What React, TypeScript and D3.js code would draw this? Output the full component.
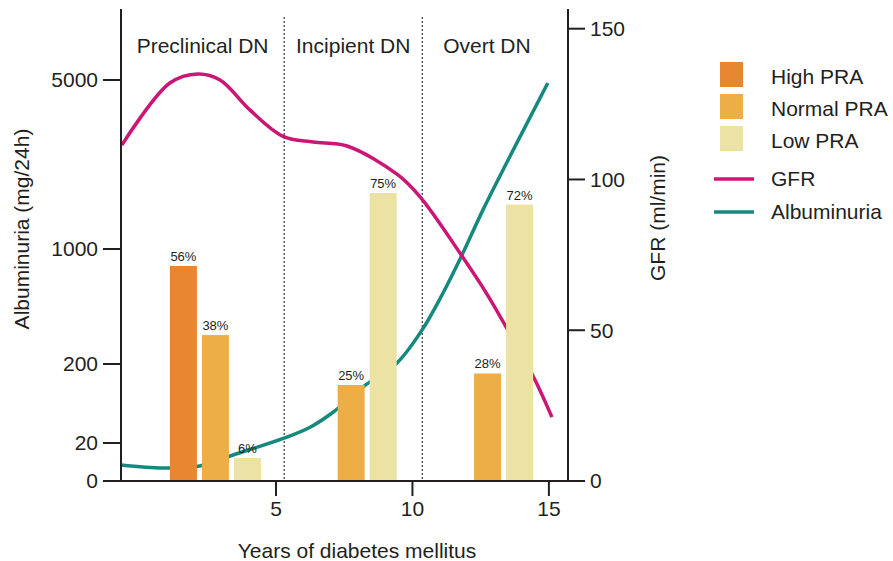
import React from "react";
import * as d3 from "d3";

// ---- data ----
const stageNames = ["Preclinical DN", "Incipient DN", "Overt DN"];
const stageBoundaries = [5.3, 10.36]; // years (dotted separators)
const stageEnd = 15.1;
const stageCenters = [2.78, 8.34, 13.34]; // years, centre of each bar group

const seriesNames = ["High PRA", "Normal PRA", "Low PRA"];
const highPRA: (number | null)[] = [56, null, null];
const normalPRA: (number | null)[] = [38, 25, 28];
const lowPRA: (number | null)[] = [6, 75, 72];

const gfrYears = [-0.65, 1.11, 2.14, 2.95, 4.05, 5.26, 6.36, 7.6, 9.47, 10.28, 11.74, 12.73, 13.43, 14.42, 15.11];
const gfrValues = [111.4, 132, 135, 133, 123, 114.3, 112.4, 111.1, 101.5, 94.2, 75.6, 62, 51.1, 34.8, 21.2];

const albYears = [-0.68, 0.86, 2.2, 3.43, 5.29, 6.25, 7.09, 8.19, 9.43, 10.35, 11.12, 11.78, 12.58, 13.5, 14.96];
const albValues = [8.4, 6.8, 7.9, 13.7, 31, 56, 90, 148, 207, 436, 694, 944, 1920, 3100, 4930];

const xTicks = [5, 10, 15];
const albTicks = [0, 20, 200, 1000, 5000];
const gfrTicks = [0, 50, 100, 150];

// ---- style ----
const W = 893;
const H = 561;
const FONT = "'Liberation Sans', Arial, Helvetica, sans-serif";
const TEXT = "#231f20";
const AXIS = "#231f20";
const barColors = ["#e88632", "#edae45", "#ece2a3"];
const GFR_COLOR = "#cc1676";
const ALB_COLOR = "#16897e";

const LEFT = 121;
const RIGHT = 568;
const BOTTOM = 481;
const TOP = 9;

export default function App() {
  const x = d3.scaleLinear().domain([-0.68, 15.7]).range([LEFT, RIGHT]);
  const yAlb = d3.scaleLinear().domain(albTicks).range([481, 443, 364, 249, 80]);
  const yGfr = d3.scaleLinear().domain([0, 150]).range([BOTTOM, 28.7]);
  const yPct = d3.scaleLinear().domain([0, 100]).range([BOTTOM, 97]);

  const gfrLine = d3
    .line<number>()
    .x((_, i) => x(gfrYears[i]))
    .y((d) => yGfr(d))
    .curve(d3.curveCatmullRom.alpha(0.5));
  const albLine = d3
    .line<number>()
    .x((_, i) => x(albYears[i]))
    .y((d) => yAlb(d))
    .curve(d3.curveCatmullRom.alpha(0.5));

  const series = [highPRA, normalPRA, lowPRA];
  const barW = 27;
  const bars: { x: number; y: number; v: number; color: string; key: string }[] = [];
  stageCenters.forEach((c, si) => {
    const present = seriesNames.filter((_, k) => series[k][si] != null);
    const n = present.length;
    const inner = d3
      .scalePoint<string>()
      .domain(present)
      .range([-(n - 1) * 16, (n - 1) * 16]);
    present.forEach((name) => {
      const k = seriesNames.indexOf(name);
      const v = series[k][si] as number;
      bars.push({
        x: x(c) + (inner(name) as number),
        y: yPct(v),
        v,
        color: barColors[k],
        key: `${si}-${k}`,
      });
    });
  });

  const bounds = [x.domain()[0], ...stageBoundaries, stageEnd];

  return (
    <svg
      width={W}
      height={H}
      style={{ position: "absolute", left: 0, top: 0, background: "#fff" }}
      fontFamily={FONT}
    >
      <rect width={W} height={H} fill="#fff" />
      {/* stage separators */}
      {stageBoundaries.map((b) => (
        <line
          key={b}
          x1={x(b)}
          x2={x(b)}
          y1={17}
          y2={BOTTOM}
          stroke="#333"
          strokeWidth={1.2}
          strokeDasharray="2,2"
        />
      ))}
      {/* stage labels */}
      {stageNames.map((s, i) => (
        <text
          key={s}
          x={(x(bounds[i]) + x(bounds[i + 1])) / 2}
          y={53}
          textAnchor="middle"
          fontSize={21}
          fill={TEXT}
        >
          {s}
        </text>
      ))}

      {/* curves */}
      <path d={albLine(albValues) || ""} fill="none" stroke={ALB_COLOR} strokeWidth={3.5} />
      <path d={gfrLine(gfrValues) || ""} fill="none" stroke={GFR_COLOR} strokeWidth={3.5} />

      {/* bars */}
      {bars.map((b) => (
        <g key={b.key}>
          <rect x={b.x - barW / 2} y={b.y} width={barW} height={BOTTOM - b.y} fill={b.color} />
          <text x={b.x} y={b.y - 5} textAnchor="middle" fontSize={13} fill={TEXT}>
            {b.v}%
          </text>
        </g>
      ))}

      {/* left axis */}
      <line x1={LEFT} x2={LEFT} y1={TOP} y2={BOTTOM} stroke={AXIS} strokeWidth={2} />
      {albTicks.map((t) => (
        <g key={`a${t}`}>
          <line x1={103} x2={LEFT} y1={yAlb(t)} y2={yAlb(t)} stroke={AXIS} strokeWidth={2} />
          <text x={98} y={yAlb(t)} dy="0.35em" textAnchor="end" fontSize={21} fill={TEXT}>
            {t}
          </text>
        </g>
      ))}
      {/* right axis */}
      <line x1={RIGHT} x2={RIGHT} y1={TOP} y2={BOTTOM} stroke={AXIS} strokeWidth={2} />
      {gfrTicks.map((t) => (
        <g key={`g${t}`}>
          <line x1={RIGHT} x2={585} y1={yGfr(t)} y2={yGfr(t)} stroke={AXIS} strokeWidth={2} />
          <text x={590} y={yGfr(t)} dy="0.35em" textAnchor="start" fontSize={21} fill={TEXT}>
            {t}
          </text>
        </g>
      ))}
      {/* bottom axis */}
      <line x1={103} x2={585} y1={BOTTOM} y2={BOTTOM} stroke={AXIS} strokeWidth={2} />
      {xTicks.map((t) => (
        <g key={`x${t}`}>
          <line x1={x(t)} x2={x(t)} y1={BOTTOM} y2={496} stroke={AXIS} strokeWidth={2} />
          <text x={x(t)} y={516} textAnchor="middle" fontSize={21} fill={TEXT}>
            {t}
          </text>
        </g>
      ))}

      {/* axis titles */}
      <text x={357} y={558} textAnchor="middle" fontSize={21} fill={TEXT}>
        Years of diabetes mellitus
      </text>
      <text
        transform="translate(22,229) rotate(-90)"
        textAnchor="middle"
        dy="0.35em"
        fontSize={21}
        fill={TEXT}
      >
        Albuminuria (mg/24h)
      </text>
      <text
        transform="translate(658,218) rotate(-90)"
        textAnchor="middle"
        dy="0.35em"
        fontSize={21}
        fill={TEXT}
      >
        GFR (ml/min)
      </text>

      {/* legend */}
      {seriesNames.map((s, i) => (
        <g key={s}>
          <rect x={720} y={62 + i * 32} width={23} height={25} fill={barColors[i]} />
          <text x={771} y={84 + i * 32} fontSize={21} fill={TEXT}>
            {s}
          </text>
        </g>
      ))}
      {[
        { name: "GFR", color: GFR_COLOR, y: 179 },
        { name: "Albuminuria", color: ALB_COLOR, y: 212 },
      ].map((l) => (
        <g key={l.name}>
          <line x1={714} x2={754} y1={l.y} y2={l.y} stroke={l.color} strokeWidth={3.5} />
          <text x={771} y={l.y + 6.5} fontSize={21} fill={TEXT}>
            {l.name}
          </text>
        </g>
      ))}
    </svg>
  );
}
